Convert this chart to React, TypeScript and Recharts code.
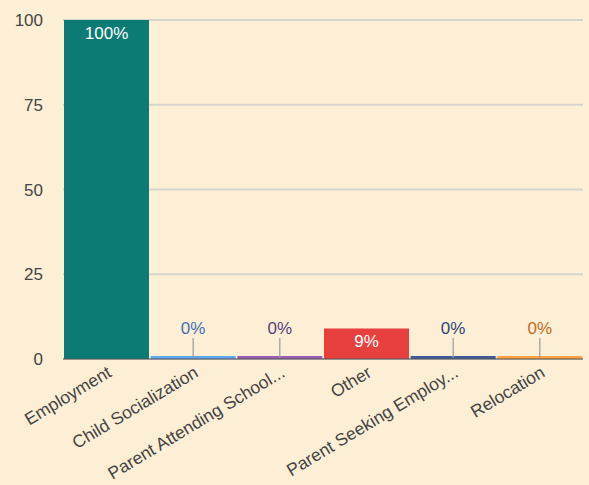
import { BarChart, Bar, XAxis, YAxis, CartesianGrid, Cell, LabelList } from 'recharts';

const categories = [
  'Employment',
  'Child Socialization',
  'Parent Attending School...',
  'Other',
  'Parent Seeking Employ...',
  'Relocation',
];
const percents = [100, 0, 0, 9, 0, 0];
const barColors = ['#0B7B73', '#5DA8EC', '#9A5BB5', '#E8403F', '#3F5A99', '#FFA142'];
const labelColors = ['#FFFFFF', '#3D6FB3', '#5C3B80', '#FFFFFF', '#2F4576', '#C76A20'];
const yTicks = [0, 25, 50, 75, 100];

const data = categories.map((name, i) => ({ name, value: percents[i] }));

const FONT = '"Liberation Sans", Arial, sans-serif';

const renderLabel = (props: any) => {
  const { x, y, width, height, value, index } = props;
  const cx = x + width / 2;
  if (value === 0) {
    const base = y + height;
    return (
      <g>
        <line x1={cx} y1={base - 21} x2={cx} y2={base - 1} stroke="#999" strokeWidth={1.2} />
        <text x={cx} y={base - 25} textAnchor="middle" fontSize={17} fontFamily={FONT} fill={labelColors[index]}>
          {value}%
        </text>
      </g>
    );
  }
  return (
    <text x={cx} y={y + 19} textAnchor="middle" fontSize={17} fontFamily={FONT} fill={labelColors[index]}>
      {value}%
    </text>
  );
};

export default function App() {
  return (
    <div style={{ position: 'absolute', left: 0, top: 0, width: 589, height: 485, background: '#FDEFD6' }}>
      <BarChart
        width={589}
        height={485}
        data={data}
        margin={{ top: 20, right: 6, left: 0, bottom: 0 }}
        barCategoryGap={1}
      >
        <CartesianGrid vertical={false} stroke="#D6D3CC" strokeWidth={2} />
        <XAxis
          dataKey="name"
          interval={0}
          height={126}
          tickLine={false}
          tickMargin={0}
          axisLine={{ stroke: '#555', strokeWidth: 1 }}
          angle={-31}
          textAnchor="end"
          tick={{ fontSize: 17.5, fill: '#444', fontFamily: FONT }}
        />
        <YAxis
          width={63}
          domain={[0, 100]}
          ticks={yTicks}
          axisLine={false}
          tickLine={false}
          tickMargin={14}
          tick={{ fontSize: 17, fill: '#444', fontFamily: FONT }}
        />
        <Bar dataKey="value" isAnimationActive={false} minPointSize={3}>
          {data.map((d, i) => (
            <Cell key={d.name} fill={barColors[i]} />
          ))}
          <LabelList dataKey="value" content={renderLabel} />
        </Bar>
      </BarChart>
    </div>
  );
}
